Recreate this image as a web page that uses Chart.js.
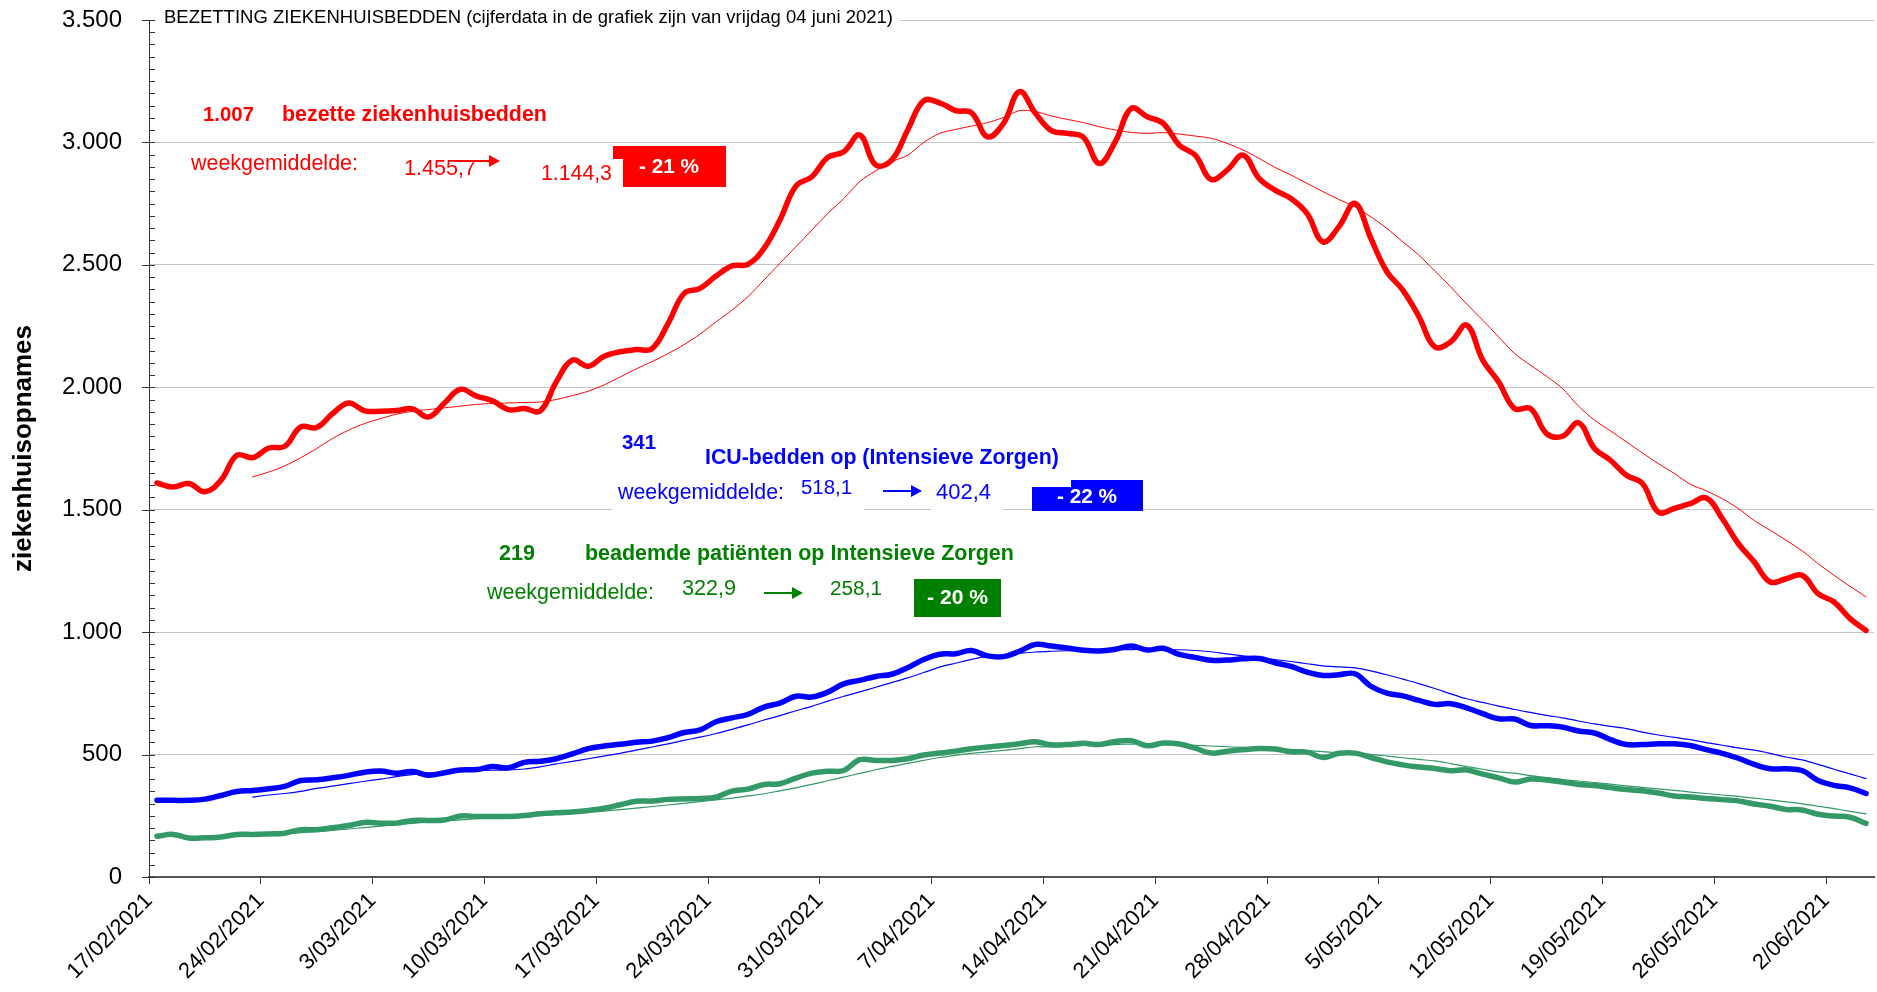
<!DOCTYPE html>
<html lang="nl">
<head>
<meta charset="UTF-8">
<title>Bezetting ziekenhuisbedden</title>
<script src="https://cdn.jsdelivr.net/npm/chart.js"></script>
<style>
    html, body { margin: 0; padding: 0; background: #fff; }
    canvas { display: block; }
</style>
</head>
<body>
<canvas id="bedsChart" width="1877" height="992"></canvas>
<script>
// x-axis labels, one per week, starting 17/02/2021
const weekLabels = ['17/02/2021', '24/02/2021', '3/03/2021', '10/03/2021', '17/03/2021', '24/03/2021',
    '31/03/2021', '7/04/2021', '14/04/2021', '21/04/2021', '28/04/2021', '5/05/2021',
    '12/05/2021', '19/05/2021', '26/05/2021', '2/06/2021'];

// bezette ziekenhuisbedden, daily (17/02 .. 04/06)
const dailyBeds = [1609, 1593, 1607, 1573, 1620, 1722, 1713, 1752, 1759, 1838, 1836, 1893, 1936, 1904,
    1902, 1905, 1912, 1879, 1936, 1992, 1964, 1945, 1909, 1913, 1904, 2022, 2111, 2086,
    2127, 2145, 2154, 2158, 2261, 2383, 2404, 2454, 2496, 2502, 2567, 2683, 2822, 2860,
    2939, 2962, 3030, 2908, 2928, 3051, 3170, 3162, 3130, 3121, 3023, 3078, 3207, 3119,
    3048, 3037, 3021, 2914, 3003, 3139, 3105, 3078, 2989, 2948, 2849, 2887, 2948, 2853,
    2805, 2771, 2710, 2594, 2656, 2751, 2608, 2472, 2397, 2290, 2165, 2186, 2254, 2111,
    2022, 1913, 1913, 1811, 1800, 1855, 1750, 1702, 1641, 1607, 1490, 1505, 1525, 1548,
    1464, 1362, 1287, 1205, 1218, 1232, 1157, 1123, 1055, 1007];
// weekgemiddelde
const avgBeds = [null, null, null, null, null, null, 1634, 1654, 1679, 1712, 1750, 1791, 1825, 1852,
    1872, 1890, 1902, 1909, 1916, 1923, 1930, 1934, 1936, 1938, 1940, 1950, 1966, 1984,
    2010, 2042, 2075, 2105, 2138, 2174, 2217, 2267, 2315, 2370, 2438, 2506, 2574, 2642,
    2710, 2771, 2840, 2884, 2921, 2948, 3000, 3037, 3053, 3067, 3081, 3102, 3130, 3126,
    3108, 3094, 3081, 3064, 3051, 3041, 3037, 3040, 3034, 3026, 3017, 2996, 2969, 2935,
    2898, 2867, 2833, 2799, 2767, 2737, 2696, 2649, 2594, 2540, 2475, 2410, 2340, 2274,
    2206, 2138, 2090, 2045, 1995, 1923, 1866, 1822, 1777, 1732, 1688, 1648, 1604, 1577,
    1545, 1505, 1456, 1416, 1375, 1332, 1280, 1232, 1187, 1144];

// ICU-bedden
const dailyIcu = [313, 313, 313, 318, 333, 349, 353, 360, 370, 394, 397, 405, 415, 428,
    433, 424, 431, 416, 426, 437, 439, 451, 446, 468, 473, 483, 503, 524,
    535, 542, 550, 555, 569, 590, 601, 634, 650, 664, 694, 710, 738, 735,
    755, 789, 803, 819, 828, 855, 888, 910, 912, 925, 903, 900, 922, 950,
    943, 935, 926, 923, 930, 943, 927, 934, 909, 897, 885, 886, 891, 892,
    875, 860, 837, 823, 826, 830, 779, 751, 740, 721, 705, 708, 691, 667,
    646, 645, 619, 618, 612, 596, 588, 561, 541, 541, 544, 544, 537, 520,
    505, 485, 460, 442, 442, 435, 394, 374, 364, 341];
const avgIcu = [null, null, null, null, null, null, 326, 335, 341, 350, 362, 371, 381, 391,
    400, 410, 418, 425, 429, 432, 434, 436, 437, 441, 450, 462, 472, 483,
    494, 505, 518, 531, 544, 558, 571, 586, 603, 621, 641, 659, 679, 697,
    718, 738, 756, 775, 794, 813, 835, 857, 873, 889, 901, 906, 913, 919,
    922, 924, 926, 927, 928, 929, 930, 929, 928, 925, 920, 911, 903, 895,
    888, 880, 871, 862, 858, 854, 842, 826, 808, 790, 770, 748, 728, 713,
    698, 684, 672, 660, 650, 637, 625, 615, 606, 592, 580, 570, 561, 549,
    538, 527, 518, 505, 490, 478, 460, 440, 421, 402];

// beademde patienten op Intensieve Zorgen
const dailyVent = [166, 174, 159, 160, 163, 174, 174, 176, 179, 193, 193, 201, 210, 223,
    220, 220, 231, 231, 233, 249, 247, 247, 247, 251, 258, 262, 265, 272,
    281, 295, 309, 310, 317, 319, 321, 326, 351, 359, 378, 381, 404, 424,
    432, 435, 479, 476, 476, 483, 498, 506, 514, 524, 531, 537, 544, 552,
    540, 541, 546, 541, 553, 557, 536, 547, 543, 526, 506, 514, 520, 525,
    523, 511, 510, 488, 505, 506, 488, 470, 458, 449, 443, 434, 437, 420,
    405, 388, 400, 396, 388, 378, 374, 365, 357, 352, 343, 331, 327, 321,
    316, 311, 298, 289, 276, 274, 256, 249, 244, 219];
const avgVent = [null, null, null, null, null, null, 170, 172, 176, 181, 186, 190, 196, 202,
    208, 214, 219, 224, 229, 233, 238, 242, 245, 249, 252, 256, 260, 265,
    269, 275, 281, 288, 294, 301, 308, 315, 322, 331, 340, 352, 364, 378,
    393, 408, 423, 438, 452, 464, 476, 488, 497, 505, 511, 517, 524, 532,
    531, 534, 537, 539, 541, 543, 544, 544, 541, 538, 535, 532, 529, 527,
    525, 521, 516, 512, 507, 505, 501, 494, 487, 480, 474, 463, 451, 440,
    429, 424, 414, 406, 398, 392, 386, 379, 372, 366, 360, 354, 347, 341,
    335, 329, 322, 315, 307, 299, 289, 279, 268, 258];

const FONT = '"Liberation Sans", Arial, Helvetica, sans-serif';

// each day sits in the middle of its own slot, week ticks sit on the slot edges
function toPoints(arr) {
    return arr.map((v, i) => ({ x: i + 0.5, y: v }));
}

function dotted(n) {
    return String(n).replace(/\B(?=(\d{3})+(?!\d))/g, '.');
}

// text sized so that it fills the given width
function fitText(ctx, txt, x, y, w, bold, color) {
    const weight = bold ? 'bold ' : '';
    ctx.font = weight + '100px ' + FONT;
    const size = 100 * w / ctx.measureText(txt).width;
    ctx.font = weight + size.toFixed(2) + 'px ' + FONT;
    ctx.fillStyle = color;
    ctx.textAlign = 'left';
    ctx.textBaseline = 'middle';
    ctx.fillText(txt, x, y);
}

function arrow(ctx, x1, x2, y, color) {
    ctx.strokeStyle = color;
    ctx.fillStyle = color;
    ctx.lineWidth = 2;
    ctx.beginPath();
    ctx.moveTo(x1, y);
    ctx.lineTo(x2 - 8, y);
    ctx.stroke();
    ctx.beginPath();
    ctx.moveTo(x2, y);
    ctx.lineTo(x2 - 11, y - 6);
    ctx.lineTo(x2 - 11, y + 6);
    ctx.closePath();
    ctx.fill();
}

// small ticks on the value axis (every 50, longer on every 500)
const yTickMarks = {
    id: 'yTickMarks',
    afterDraw(chart) {
        const { ctx } = chart;
        const y = chart.scales.y;
        const x0 = y.right;
        ctx.save();
        ctx.strokeStyle = '#333';
        ctx.lineWidth = 1;
        for (let v = 0; v <= 3500; v += 50) {
            const py = Math.round(y.getPixelForValue(v)) + 0.5;
            const major = v % 500 === 0;
            ctx.beginPath();
            ctx.moveTo(major ? x0 - 7 : x0, py);
            ctx.lineTo(x0 + 6, py);
            ctx.stroke();
        }
        ctx.restore();
    }
};

// titles, the three text blocks with their boxes and arrows
const textBlocks = {
    id: 'textBlocks',
    afterDraw(chart) {
        const ctx = chart.ctx;
        ctx.save();

        // title on a white backing that hides the top grid line
        ctx.fillStyle = '#fff';
        ctx.fillRect(156, 3, 744, 30);
        fitText(ctx, 'BEZETTING ZIEKENHUISBEDDEN (cijferdata in de grafiek zijn van vrijdag 04 juni 2021)',
            164, 18, 729, false, '#000');

        // red block
        const red = '#ff0000';
        fitText(ctx, '1.007', 203, 115, 51, true, red);
        fitText(ctx, 'bezette ziekenhuisbedden', 282, 115, 265, true, red);
        fitText(ctx, 'weekgemiddelde:', 191, 164, 167, false, red);
        fitText(ctx, '1.455,7', 404, 169, 72, false, red);
        arrow(ctx, 455, 500, 161, red);
        ctx.fillStyle = red;
        ctx.fillRect(613, 146, 113, 41);
        ctx.fillStyle = '#fff';
        ctx.fillRect(535, 159, 88, 32);
        fitText(ctx, '1.144,3', 541, 174, 71, false, red);
        fitText(ctx, '- 21 %', 639, 167, 60, true, '#fff');

        // blue block
        const blue = '#0000ff';
        ctx.fillStyle = '#fff';
        ctx.fillRect(612, 474, 252, 40);
        ctx.fillRect(931, 476, 72, 38);
        fitText(ctx, '341', 622, 443, 34, true, blue);
        fitText(ctx, 'ICU-bedden op (Intensieve Zorgen)', 705, 458, 354, true, blue);
        fitText(ctx, 'weekgemiddelde:', 618, 493, 166, false, blue);
        fitText(ctx, '518,1', 801, 488, 51, false, blue);
        arrow(ctx, 883, 922, 491, blue);
        fitText(ctx, '402,4', 936, 493, 55, false, blue);
        ctx.fillStyle = blue;
        ctx.fillRect(1032, 480, 111, 31);
        ctx.fillStyle = '#fff';
        ctx.fillRect(1030, 470, 41, 17);
        fitText(ctx, '- 22 %', 1057, 497, 60, true, '#fff');

        // green block
        const green = '#008000';
        fitText(ctx, '219', 499, 554, 36, true, green);
        fitText(ctx, 'beademde patiënten op Intensieve Zorgen', 585, 554, 429, true, green);
        fitText(ctx, 'weekgemiddelde:', 487, 593, 167, false, green);
        fitText(ctx, '322,9', 682, 589, 54, false, green);
        arrow(ctx, 764, 803, 593, green);
        fitText(ctx, '258,1', 830, 589, 52, false, green);
        ctx.fillStyle = green;
        ctx.fillRect(914, 579, 87, 38);
        fitText(ctx, '- 20 %', 927, 598, 61, true, '#fff');

        ctx.restore();
    }
};

const ctx = document.getElementById('bedsChart').getContext('2d');
new Chart(ctx, {
    type: 'line',
    data: {
        datasets: [
            { data: toPoints(avgBeds), borderColor: '#ff0000', borderWidth: 1, tension: 0.3 },
            { data: toPoints(avgIcu), borderColor: '#0000ff', borderWidth: 1.2, tension: 0.3 },
            { data: toPoints(avgVent), borderColor: '#339966', borderWidth: 1.2, tension: 0.3 },
            { data: toPoints(dailyBeds), borderColor: '#ff0000', borderWidth: 5.5, tension: 0.4 },
            { data: toPoints(dailyIcu), borderColor: '#0000ff', borderWidth: 5.5, tension: 0.4 },
            { data: toPoints(dailyVent), borderColor: '#339966', borderWidth: 5.5, tension: 0.4 }
        ]
    },
    options: {
        responsive: false,
        animation: false,
        layout: { padding: { top: 20, right: 3, left: 0, bottom: 0 } },
        elements: { point: { radius: 0 }, line: { borderCapStyle: 'round', borderJoinStyle: 'round' } },
        plugins: { legend: { display: false }, tooltip: { enabled: false } },
        scales: {
            x: {
                type: 'linear',
                min: 0,
                max: 108,
                afterBuildTicks: s => { s.ticks = weekLabels.map((_, k) => ({ value: k * 7 })); },
                afterFit: s => { s.height = 115; },
                grid: { drawOnChartArea: false, drawTicks: true, tickLength: 7, tickColor: '#333' },
                border: { color: '#555', width: 2 },
                ticks: {
                    autoSkip: false,
                    maxRotation: 45,
                    minRotation: 45,
                    padding: 4,
                    color: '#000',
                    font: { size: 22, family: FONT },
                    callback: v => weekLabels[Math.round(v / 7)]
                }
            },
            y: {
                min: 0,
                max: 3500,
                afterFit: s => { s.width = 149; s.paddingTop = 0; s.paddingBottom = 0; },
                grid: { color: '#c4c4c4', lineWidth: 1, drawTicks: false },
                border: { color: '#333', width: 1 },
                ticks: {
                    stepSize: 500,
                    padding: 27,
                    color: '#000',
                    font: { size: 24, family: FONT },
                    callback: v => dotted(v)
                },
                title: {
                    display: true,
                    text: 'ziekenhuisopnames',
                    color: '#000',
                    padding: 8,
                    font: { size: 26, weight: 'bold', family: FONT }
                }
            }
        }
    },
    plugins: [yTickMarks, textBlocks]
});
</script>
</body>
</html>
